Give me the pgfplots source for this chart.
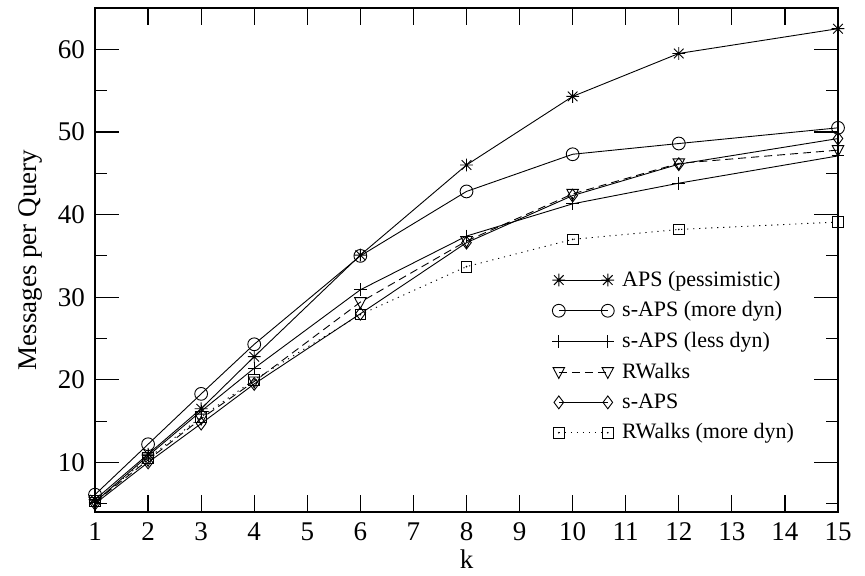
\documentclass[border=0pt]{standalone}
\usepackage{fontspec}
\setmainfont{Liberation Serif}
\usepackage{pgfplots}
\pgfplotsset{compat=1.18}

% gnuplot-style point types
\pgfdeclareplotmark{star8}{%
  \pgfpathmoveto{\pgfqpoint{-\pgfplotmarksize}{0pt}}\pgfpathlineto{\pgfqpoint{\pgfplotmarksize}{0pt}}%
  \pgfpathmoveto{\pgfqpoint{0pt}{-\pgfplotmarksize}}\pgfpathlineto{\pgfqpoint{0pt}{\pgfplotmarksize}}%
  \pgfpathmoveto{\pgfqpoint{-.75\pgfplotmarksize}{-.75\pgfplotmarksize}}\pgfpathlineto{\pgfqpoint{.75\pgfplotmarksize}{.75\pgfplotmarksize}}%
  \pgfpathmoveto{\pgfqpoint{-.75\pgfplotmarksize}{.75\pgfplotmarksize}}\pgfpathlineto{\pgfqpoint{.75\pgfplotmarksize}{-.75\pgfplotmarksize}}%
  \pgfusepathqstroke}
\pgfdeclareplotmark{squaredot}{%
  \pgfpathrectanglecorners{\pgfqpoint{-\pgfplotmarksize}{-\pgfplotmarksize}}{\pgfqpoint{\pgfplotmarksize}{\pgfplotmarksize}}%
  \pgfusepathqstroke
  \pgfpathcircle{\pgfpointorigin}{0.45pt}\pgfusepathqfill}
\pgfdeclareplotmark{tridown}{%
  \pgfpathmoveto{\pgfqpoint{0pt}{-\pgfplotmarksize}}%
  \pgfpathlineto{\pgfqpoint{.9\pgfplotmarksize}{.7\pgfplotmarksize}}%
  \pgfpathlineto{\pgfqpoint{-.9\pgfplotmarksize}{.7\pgfplotmarksize}}%
  \pgfpathclose\pgfusepathqstroke}

\begin{document}
\begin{tikzpicture}
\begin{axis}[
    scale only axis,
    width=371.5pt,
    height=252pt,
    xmin=1, xmax=15,
    ymin=4, ymax=65,
    xtick={1,2,...,15},
    ytick={10,20,...,60},
    minor ytick={5,15,...,55},
    major tick length=12pt,
    minor tick length=6pt,
    xtick style={/pgfplots/major tick length=8.5pt},
    every tick/.append style={black, line width=0.6pt},
    axis line style={line width=0.7pt},
    font=\fontsize{13.5}{16}\selectfont,
    /pgf/number format/assume math mode=true,
    xticklabel style={anchor=base, yshift=-14pt},
    yticklabel style={anchor=east, xshift=-1.5pt},
    xlabel={k},
    ylabel={Messages per Query},
    every axis x label/.style={at={(axis description cs:0.5,-0.094)}, anchor=center},
    every axis y label/.style={at={(axis description cs:-0.0875,0.5)}, rotate=90, anchor=center},
    clip=false,
    every axis plot/.append style={black, line width=0.45pt, mark size=3.2pt},
    legend style={at={(0.607,0.495)}, anchor=north west, draw=none, fill=none,
      font=\fontsize{11}{12}\selectfont, row sep=2.2pt,
      nodes={inner xsep=4pt}},
    legend cell align=left,
    legend image code/.code={\draw[#1,mark repeat=1,mark phase=1] plot coordinates {(0pt,0pt)(24.5pt,0pt)};},
]
\addplot[solid, mark=star8, mark options={solid}] coordinates {
    (1,5.5)(2,11.0)(3,16.5)(4,22.8)(6,35.1)(8,46.0)(10,54.3)(12,59.5)(15,62.5)
};
\addplot[solid, mark=o, mark options={solid}] coordinates {
    (1,6.1)(2,12.2)(3,18.3)(4,24.3)(6,35.0)(8,42.8)(10,47.3)(12,48.6)(15,50.5)
};
\addplot[solid, mark=+, mark options={solid}] coordinates {
    (1,5.2)(2,10.8)(3,16.2)(4,21.4)(6,30.9)(8,37.4)(10,41.3)(12,43.8)(15,47.1)
};
\addplot[dash pattern=on 4pt off 2.5pt, mark=tridown, mark options={solid}] coordinates {
    (1,5.2)(2,10.3)(3,15.3)(4,19.8)(6,29.4)(8,36.8)(10,42.5)(12,46.2)(15,47.8)
};
\addplot[solid, mark=diamond, mark options={solid}] coordinates {
    (1,5.0)(2,10.0)(3,14.7)(4,19.5)(6,28.0)(8,36.6)(10,42.3)(12,46.1)(15,49.2)
};
\addplot[dash pattern=on 0.6pt off 2.4pt, mark=squaredot, mark options={solid, mark size=2.7pt}] coordinates {
    (1,5.3)(2,10.5)(3,15.5)(4,20.0)(6,27.9)(8,33.7)(10,37.0)(12,38.2)(15,39.1)
};
\legend{APS (pessimistic), s-APS (more dyn), s-APS (less dyn), RWalks, s-APS, RWalks (more dyn)}
\end{axis}
\pgfresetboundingbox
\path (current axis.south west) ++(-47.5pt,-31.5pt) rectangle ++(432.5pt,287.5pt);
\end{tikzpicture}
\end{document}
